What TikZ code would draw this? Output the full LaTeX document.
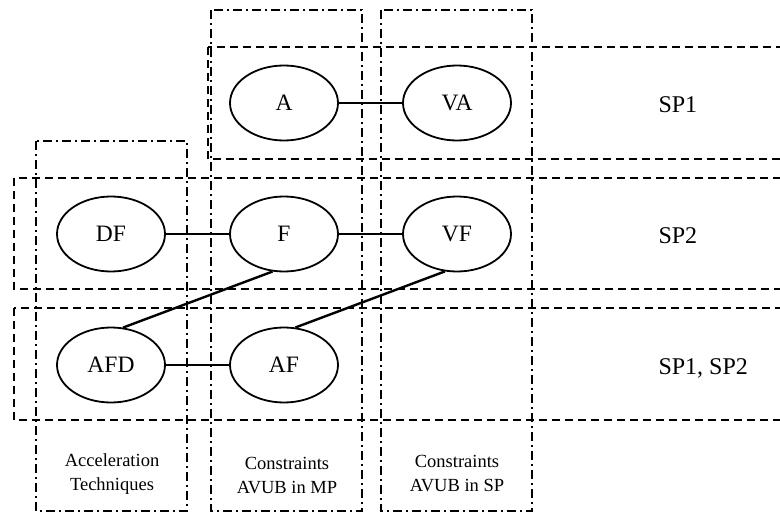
\documentclass[tikz,border=0pt]{standalone}
\usepackage{fontspec}
\setmainfont{Liberation Serif}
\usetikzlibrary{shapes.geometric}
\begin{document}
\begin{tikzpicture}[x=1pt,y=-1pt,
  ell/.style={ellipse,draw,line width=1.8pt,minimum width=108pt,minimum height=75pt,inner sep=0pt,font=\fontsize{23.5}{28}\selectfont},
  conn/.style={line width=2.4pt},
  rowbox/.style={draw,line width=1.8pt,dash pattern=on 8pt off 5pt},
  colbox/.style={draw,line width=1.8pt,dash pattern=on 9pt off 4pt on 2pt off 4pt},
  collab/.style={align=center,font=\fontsize{18.5}{24}\selectfont},
  rowlab/.style={anchor=west,font=\fontsize{24}{28}\selectfont}]
\useasboundingbox (0,0) rectangle (780,514);
\clip (0,0) rectangle (780,514);
% columns
\draw[colbox] (36,141) rectangle (187,511);
\draw[colbox] (211,10) rectangle (362,511);
\draw[colbox] (381,10) rectangle (532,511);
% rows
\draw[rowbox] (208,47) rectangle (800,159);
\draw[rowbox] (14,178) rectangle (800,289);
\draw[rowbox] (14,308) rectangle (800,420);
% nodes
\node[ell,fill=white] (A) at (284,103) {A};
\node[ell,fill=white] (VA) at (457,103) {VA};
\node[ell,fill=white] (DF) at (111,234) {DF};
\node[ell,fill=white] (F) at (284,234) {F};
\node[ell,fill=white] (VF) at (457,234) {VF};
\node[ell,fill=white] (AFD) at (111,365) {AFD};
\node[ell,fill=white] (AF) at (284,365) {AF};
% connectors
\draw[conn] (A) -- (VA);
\draw[conn] (DF) -- (F);
\draw[conn] (F) -- (VF);
\draw[conn] (AFD) -- (AF);
\draw[conn] (F.253) -- (AFD.72);
\draw[conn] (VF.252) -- (AF.73);
% labels
\node[rowlab] (l1) at (655,105) {SP1};
\node[rowlab] (l2) at (655,236) {SP2};
\node[rowlab] (l3) at (655,368) {SP1, SP2};
\node[collab] (c1) at (112,474) {Acceleration\\Techniques};
\node[collab] (c2) at (287,476) {Constraints\\AVUB in MP};
\node[collab] (c3) at (457,474) {Constraints\\AVUB in SP};
\end{tikzpicture}
\end{document}
